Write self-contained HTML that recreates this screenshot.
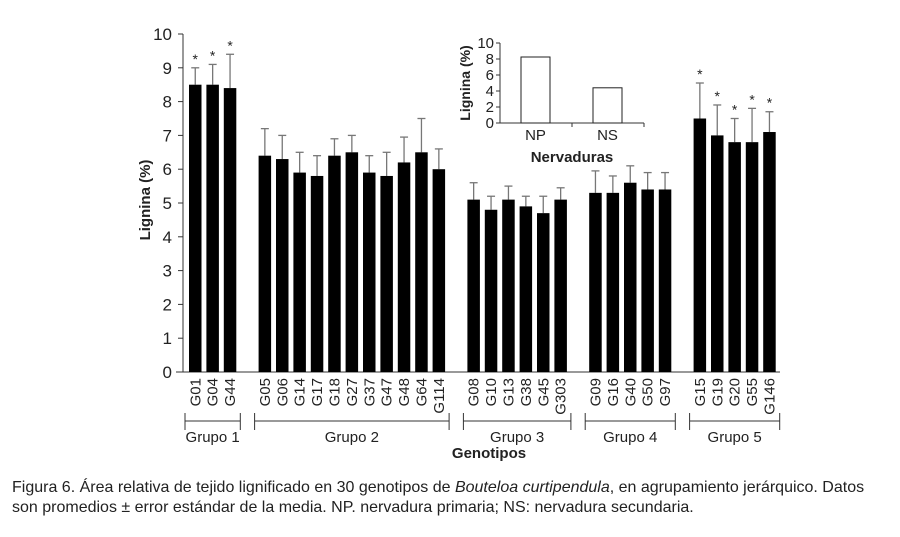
<!DOCTYPE html>
<html><head><meta charset="utf-8"><style>
body{margin:0;background:#fff;width:900px;height:532px;overflow:hidden;font-family:"Liberation Sans",sans-serif}
svg text{font-family:"Liberation Sans",sans-serif}
</style></head><body>
<svg id="c" width="900" height="532">
<g id="main"></g>
<g id="inset"></g>
<text x="150" y="200" transform="rotate(-90 150 200)" text-anchor="middle" font-size="15" font-weight="bold" fill="#222">Lignina (%)</text>
<text x="489" y="458" text-anchor="middle" font-size="15" font-weight="bold" fill="#222">Genotipos</text>
<text x="12" y="492" font-size="16" fill="#222">Figura 6. Área relativa de tejido lignificado en 30 genotipos de <tspan font-style="italic">Bouteloa curtipendula</tspan>, en agrupamiento jerárquico. Datos</text>
<text x="12" y="512" font-size="16" fill="#222">son promedios ± error estándar de la media. NP. nervadura primaria; NS: nervadura secundaria.</text>
</svg>
<script>
const categories=["G01","G04","G44","G05","G06","G14","G17","G18","G27","G37","G47","G48","G64","G114","G08","G10","G13","G38","G45","G303","G09","G16","G40","G50","G97","G15","G19","G20","G55","G146"];
const values=[8.5,8.5,8.4,6.4,6.3,5.9,5.8,6.4,6.5,5.9,5.8,6.2,6.5,6.0,5.1,4.8,5.1,4.9,4.7,5.1,5.3,5.3,5.6,5.4,5.4,7.5,7.0,6.8,6.8,7.1];
const errTops=[9.0,9.1,9.4,7.2,7.0,6.5,6.4,6.9,7.0,6.4,6.5,6.95,7.5,6.6,5.6,5.2,5.5,5.2,5.2,5.45,5.95,5.8,6.1,5.9,5.9,8.55,7.9,7.5,7.8,7.7];
const starred=[1,1,1,0,0,0,0,0,0,0,0,0,0,0,0,0,0,0,0,0,0,0,0,0,0,1,1,1,1,1];
const groupNames=["Grupo 1","Grupo 2","Grupo 3","Grupo 4","Grupo 5"];
const groupSizes=[3,11,6,5,5];
const yTicks=[0,1,2,3,4,5,6,7,8,9,10];
const insetCats=["NP","NS"];
const insetValues=[8.25,4.4];
const insetTicks=[0,2,4,6,8,10];

const NS="http://www.w3.org/2000/svg";
function mk(p,t,a){const e=document.createElementNS(NS,t);for(const k in a)e.setAttribute(k,a[k]);p.appendChild(e);return e;}
const main=document.getElementById('main');
const y=v=>372-v*33.8;
const slot=17.4,bw=12.5,x0=189;
function slotIndex(i){let s=0,c=0;for(let g=0;g<groupSizes.length;g++){if(i<c+groupSizes[g])return s+(i-c);s+=groupSizes[g]+1;c+=groupSizes[g];}return s;}
const xL=i=>x0+slotIndex(i)*slot;

let ax=mk(main,'line',{x1:183,y1:y(10),x2:183,y2:372,stroke:'#333','stroke-width':1});

let xa=mk(main,'line',{x1:176,y1:372,x2:780,y2:372,stroke:'#333','stroke-width':1});

yTicks.forEach(t=>{
  const l=mk(main,'line',{x1:178,y1:y(t),x2:183,y2:y(t),stroke:'#333'});
  
  const tx=mk(main,'text',{x:172,y:y(t)+6,'text-anchor':'end','font-size':17,fill:'#222'});tx.textContent=t;
  
});
categories.forEach((c,i)=>{
  const xl=xL(i),cx=xl+bw/2;
  const e=mk(main,'line',{x1:cx,y1:y(values[i]),x2:cx,y2:y(errTops[i]),stroke:'#777','stroke-width':1.3});
  
  const cap=mk(main,'line',{x1:cx-4,y1:y(errTops[i]),x2:cx+4,y2:y(errTops[i]),stroke:'#777','stroke-width':1.3});
  
  const r=mk(main,'rect',{x:xl,y:y(values[i]),width:bw,height:y(0)-y(values[i]),fill:'#000'});
  
  if(starred[i]){const s=mk(main,'text',{x:cx,y:y(errTops[i])-4,'text-anchor':'middle','font-size':14,fill:'#222'});s.textContent='*';
    }
  const lt=mk(main,'text',{x:cx+5,y:378,'text-anchor':'end','font-size':15,fill:'#222',transform:`rotate(-90 ${cx+5} 378)`});lt.textContent=c;
  
});
let c=0;
groupNames.forEach((g,k)=>{
  const a=xL(c)-4,b=xL(c+groupSizes[k]-1)+bw+4;c+=groupSizes[k];
  const gg=mk(main,'g',{});
  
  mk(gg,'line',{x1:a,y1:421,x2:b,y2:421,stroke:'#333'});
  mk(gg,'line',{x1:a,y1:413,x2:a,y2:430,stroke:'#333'});
  mk(gg,'line',{x1:b,y1:413,x2:b,y2:430,stroke:'#333'});
  const t=mk(main,'text',{x:(a+b)/2,y:442,'text-anchor':'middle','font-size':15,fill:'#222'});t.textContent=g;
  
});
const ins=document.getElementById('inset');
const iy=v=>123-v*8;
const ix0=500;
let ia=mk(ins,'line',{x1:ix0,y1:iy(10),x2:ix0,y2:123,stroke:'#333'});

let ib=mk(ins,'line',{x1:ix0-4,y1:123,x2:644,y2:123,stroke:'#333'});

mk(ins,'line',{x1:572,y1:123,x2:572,y2:127,stroke:'#333'});
mk(ins,'line',{x1:644,y1:123,x2:644,y2:127,stroke:'#333'});
insetTicks.forEach(t=>{
  mk(ins,'line',{x1:ix0-4,y1:iy(t),x2:ix0,y2:iy(t),stroke:'#333'});
  const tx=mk(ins,'text',{x:494,y:iy(t)+5,'text-anchor':'end','font-size':15,fill:'#222'});tx.textContent=t;
  
});
insetCats.forEach((c,i)=>{
  const xl=521+i*72;
  const r=mk(ins,'rect',{x:xl,y:iy(insetValues[i]),width:29,height:123-iy(insetValues[i]),fill:'#fff',stroke:'#222','stroke-width':1});
  
  const t=mk(ins,'text',{x:xl+14.5,y:140,'text-anchor':'middle','font-size':15,fill:'#222'});t.textContent=c;
  
});
let it=mk(ins,'text',{x:470,y:83,'text-anchor':'middle','font-size':14,'font-weight':'bold',fill:'#222',transform:'rotate(-90 470 83)'});it.textContent='Lignina (%)';

let ixt=mk(ins,'text',{x:572,y:162,'text-anchor':'middle','font-size':15,'font-weight':'bold',fill:'#222'});ixt.textContent='Nervaduras';

</script>
</body></html>
